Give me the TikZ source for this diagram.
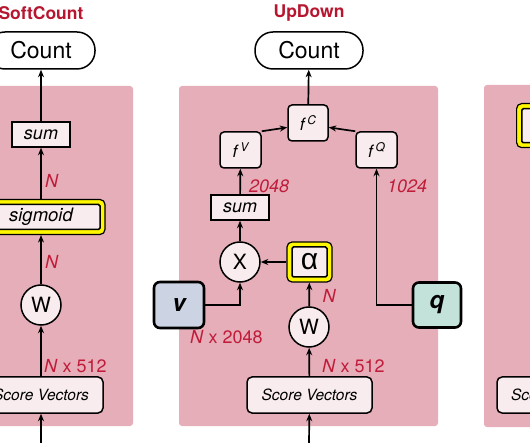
\documentclass[tikz,border=0pt]{standalone}
\usepackage{fontspec}
\setmainfont{TeX Gyre Heros}
\newfontfamily\grk{Liberation Sans}
\usetikzlibrary{arrows.meta}
\definecolor{panelpink}{RGB}{229,174,185}
\definecolor{boxpink}{RGB}{248,236,238}
\definecolor{labred}{RGB}{192,28,58}
\definecolor{titred}{RGB}{183,22,48}
\definecolor{vblue}{RGB}{204,211,226}
\definecolor{qteal}{RGB}{194,226,218}
\definecolor{hiyel}{RGB}{255,247,0}
\newcommand{\fsz}[1]{\fontsize{#1}{#1}\selectfont}
\tikzset{
  panel/.style={fill=panelpink, draw=none, rounded corners=3pt},
  arr/.style={line width=1.7pt, -{Stealth[length=7.5pt,width=6pt]}},
  title/.style={text=titred, font=\fsz{17.5}\bfseries},
  countbox/.style={draw, line width=1.5pt, fill=white, rounded corners=18pt, minimum width=108pt, minimum height=37pt, font=\fsz{23}, inner sep=0pt},
  sumbox/.style={draw, line width=1.5pt, fill=boxpink, minimum width=58pt, minimum height=25pt, font=\fsz{18}\itshape, inner sep=0pt},
  fbox/.style={draw, line width=1.5pt, fill=boxpink, rounded corners=4pt, minimum width=41pt, minimum height=36pt, inner sep=0pt},
  circ/.style={draw, line width=1.5pt, fill=boxpink, circle, minimum size=40pt, inner sep=0pt, font=\fsz{21}},
  scorebox/.style={draw, line width=1.5pt, fill=boxpink, rounded corners=5pt, minimum width=124pt, minimum height=36pt, font=\fsz{15.5}\itshape, inner sep=0pt},
  yelout/.style={draw, line width=1.2pt, fill=hiyel, rounded corners=5pt, inner sep=0pt},
  yelin/.style={draw, line width=1.5pt, fill=boxpink, rounded corners=1.5pt, inner sep=0pt},
  inputbox/.style={draw, line width=2.6pt, rounded corners=6pt, minimum width=48pt, minimum height=45pt, inner sep=0pt, font=\fsz{24}\bfseries\itshape},
  lab/.style={text=labred, font=\fsz{18}, anchor=west, inner sep=0pt},
}
\begin{document}
\begin{tikzpicture}[x=1pt,y=-1pt]
\useasboundingbox (0,0) rectangle (530,443);
\clip (0,0) rectangle (530,443);

% ---------- panels ----------
\fill[panel] (-20,86) rectangle (133,426);
\fill[panel] (179,86) rectangle (438,426);
\fill[panel] (484,85) rectangle (560,427);

% ---------- SoftCount ----------
\node[title] (t1) at (41,13) {SoftCount};
\node[countbox] (c1) at (41,50.5) {Count};
\node[sumbox] (s1) at (41,134.5) {sum};
\node[yelout, minimum width=128pt, minimum height=35pt] (sigY) at (41,217) {};
\node[yelin, minimum width=118pt, minimum height=25pt, font=\fsz{18.5}\itshape] (sig) at (41,217) {sigmoid};
\node[circ] (w1) at (41,305) {W};
\node[scorebox] (sv1) at (41,395) {Score Vectors};
\coordinate (in1) at (41,445);

\draw[arr] (s1) -- (c1);
\draw[arr] (sigY) -- (s1);
\draw[arr] (w1) -- (sigY);
\draw[arr] (sv1) -- (w1);
\draw[arr] (in1) -- (sv1);

\node[lab, font=\fsz{18}\itshape] (l1) at (45,181) {N};
\node[lab, font=\fsz{18}\itshape] (l2) at (45,262) {N};
\node[lab] (l3) at (44,366) {\textit{N} x 512};

% ---------- UpDown ----------
\node[title] (t2) at (309,13) {UpDown};
\node[countbox] (c2) at (309,50.5) {Count};
\node[fbox, minimum width=40pt] (fC) at (308,123) {\fsz{17}\itshape f\,\raisebox{6pt}{\fsz{12}C}};
\node[fbox] (fV) at (240.5,150) {\fsz{17}\itshape f\,\raisebox{6pt}{\fsz{12}V}};
\node[fbox] (fQ) at (376.5,150) {\fsz{17}\itshape f\,\raisebox{6pt}{\fsz{12}Q}};
\node[sumbox] (s2) at (240,207.5) {sum};
\node[circ] (X) at (240,262) {X};
\node[yelout, minimum width=45pt, minimum height=40pt] (aY) at (309.5,262) {};
\node[yelin, minimum width=35pt, minimum height=30pt, font=\grk\fsz{30}] (al) at (309.5,262) {α};
\node[circ] (w2) at (309,327) {W};
\node[scorebox, minimum width=125pt] (sv2) at (309.5,395) {Score Vectors};
\coordinate (in2) at (309,445);
\node[inputbox, fill=vblue, minimum width=50pt, minimum height=46pt] (v) at (179,305) {v};
\node[inputbox, fill=qteal] (q) at (437,305) {q};

\draw[arr] (fC) -- (c2);
\draw[arr] (fV.north east) -- (fC.192);
\draw[arr] (fQ.north west) -- (fC.348);
\draw[arr] (s2) -- (fV);
\draw[arr] (X) -- (s2);
\draw[arr] (aY) -- (X);
\draw[arr] (v.east) -| (X.south);
\draw[arr] (q.west) -| (fQ.south);
\draw[arr] (w2) -- (aY);
\draw[arr] (sv2) -- (w2);
\draw[arr] (in2) -- (sv2);

\node[lab, font=\fsz{18}\itshape] (l4) at (249,186) {2048};
\node[lab, font=\fsz{18}\itshape] (l5) at (387,186) {1024};
\node[lab, font=\fsz{18}\itshape] (l6) at (322.5,296) {N};
\node[lab] (l7) at (190,337) {\textit{N} x 2048};
\node[lab] (l8) at (322,366) {\textit{N} x 512};

% ---------- third panel (cut off) ----------
\node[yelout, minimum width=50pt, minimum height=44pt, anchor=north west] (y3) at (516,103) {};
\node[yelin, minimum width=40pt, minimum height=34pt, anchor=north west] (y3in) at (521,108) {};
\node[scorebox] (sv3) at (559,395) {Score Vectors};
\coordinate (in3) at (559,445);
\draw[arr] (in3) -- (sv3);
\end{tikzpicture}
\end{document}
